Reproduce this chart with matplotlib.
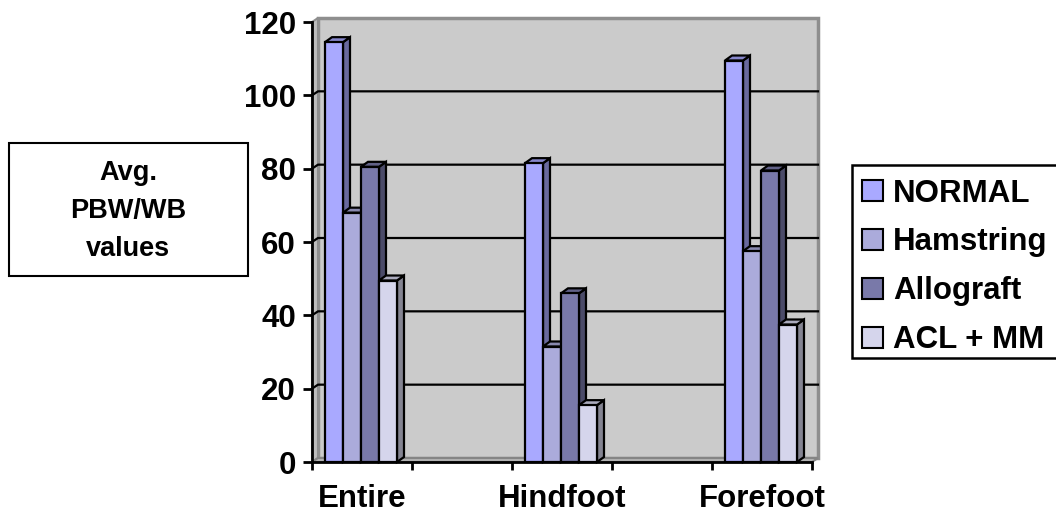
import numpy as np
import matplotlib.pyplot as plt
from matplotlib.patches import Polygon, Rectangle

plt.rcParams['font.family'] = ['Liberation Sans', 'DejaVu Sans']
plt.rcParams['font.weight'] = 'bold'

# average PBW/WB per foot region
categories = ['Entire', 'Hindfoot', 'Forefoot']
series = ['NORMAL', 'Hamstring', 'Allograft', 'ACL + MM']
normal = [114.5, 81.5, 109.5]
hamstring = [68, 31.5, 57.5]
allograft = [80.5, 46, 79.5]
acl_mm = [49.5, 15.5, 37.5]
colors = ['#A9A9FF', '#ABABDB', '#7979A9', '#D5D5EC']

values = [normal, hamstring, allograft, acl_mm]

W, H = 1056, 516
fig = plt.figure(figsize=(W / 100, H / 100), dpi=100)

# front plane of the 3d box, in pixels
x0, x1, y0, y1 = 312, 812, 462, 22
ax = fig.add_axes([x0 / W, 1 - y0 / H, (x1 - x0) / W, (y0 - y1) / H])
ax.set_facecolor('none')

n_slots = 2 * len(categories) - 1
ax.set_xlim(-0.5, n_slots - 0.5)
ax.set_ylim(0, 120)
ux = (x1 - x0) / n_slots      # px per x unit
uy = (y0 - y1) / 120           # px per y unit

# wall depth and bar depth in data units
wdx, wdy = 6 / ux, 4 / uy
bdx, bdy = 7 / ux, 5 / uy

xl, xr = -0.5, n_slots - 0.5
wall_kw = dict(clip_on=False, joinstyle='miter')
# back wall
ax.add_patch(Polygon([(xl + wdx, wdy), (xr + wdx, wdy), (xr + wdx, 120 + wdy),
                      (xl + wdx, 120 + wdy)], fc='#CBCBCB', ec='#8E8E8E', lw=2.5, zorder=1, **wall_kw))
# left side wall
ax.add_patch(Polygon([(xl, 0), (xl + wdx, wdy), (xl + wdx, 120 + wdy), (xl, 120)],
                     fc='#BDBDBD', ec='#8E8E8E', lw=1.5, zorder=1.1, **wall_kw))
# floor
ax.add_patch(Polygon([(xl, 0), (xr, 0), (xr + wdx, wdy), (xl + wdx, wdy)],
                     fc='#B4B4B4', ec='#858585', lw=1.5, zorder=1.2, **wall_kw))

# gridlines on side and back wall
for v in range(20, 120, 20):
    ax.plot([xl, xl + wdx, xr + wdx], [v, v + wdy, v + wdy], color='black', lw=1.6,
            clip_on=False, zorder=1.5, solid_joinstyle='miter')

bw = 0.18
off = 0.13
for i, (name, vals, c) in enumerate(zip(series, values, colors)):
    rgb = np.array(plt.matplotlib.colors.to_rgb(c))
    side = rgb * 0.62
    top = rgb * 0.8
    for j, v in enumerate(vals):
        x = 2 * j - 0.5 + off + i * bw
        z = 2 + i
        ax.add_patch(Polygon([(x + bw, 0), (x + bw + bdx, bdy), (x + bw + bdx, v + bdy), (x + bw, v)],
                             fc=side, ec='black', lw=1.6, zorder=z, clip_on=False))
        ax.add_patch(Polygon([(x, v), (x + bdx, v + bdy), (x + bw + bdx, v + bdy), (x + bw, v)],
                             fc=top, ec='black', lw=1.6, zorder=z, clip_on=False))
        ax.add_patch(Rectangle((x, 0), bw, v, fc=c, ec='black', lw=1.6, zorder=z + 0.1,
                               clip_on=False))

for s in ['top', 'right']:
    ax.spines[s].set_visible(False)
for s in ['left', 'bottom']:
    ax.spines[s].set_linewidth(2)
    ax.spines[s].set_zorder(10)

ax.set_yticks(range(0, 121, 20))
ax.tick_params(axis='y', length=6.5, width=2, pad=5, labelsize=22.5)
ax.set_xticks(np.arange(xl, xr + 0.01, 1.0))
ax.set_xticklabels([])
ax.tick_params(axis='x', which='major', length=6, width=2)
ax.set_xticks(np.arange(len(categories)) * 2, minor=True)
ax.set_xticklabels(categories, minor=True)
ax.tick_params(axis='x', which='minor', length=0, pad=16, labelsize=22.5)

# y axis title box
fig.add_artist(Rectangle((9 / W, 1 - 276 / H), 239 / W, 133 / H, transform=fig.transFigure,
                         fc='white', ec='black', lw=1.5))
fig.text(128 / W, 1 - 211 / H, 'Avg.\nPBW/WB\nvalues', ha='center', va='center',
         fontsize=19.5, fontweight='bold', linespacing=1.6)

# legend box
fig.add_artist(Rectangle((852 / W, 1 - 358 / H), 210 / W, 193 / H, transform=fig.transFigure,
                         fc='white', ec='black', lw=1.8))
for i, (name, c) in enumerate(zip(series, colors)):
    yc = 190 + i * 49
    fig.add_artist(Rectangle((862 / W, 1 - (yc + 10.5) / H), 21 / W, 21 / H,
                             transform=fig.transFigure, fc=c, ec='black', lw=1.5))
    fig.text(893 / W, 1 - yc / H, name, ha='left', va='center_baseline',
             fontsize=22.5, fontweight='bold')

fig.savefig('out.png', dpi=100)
